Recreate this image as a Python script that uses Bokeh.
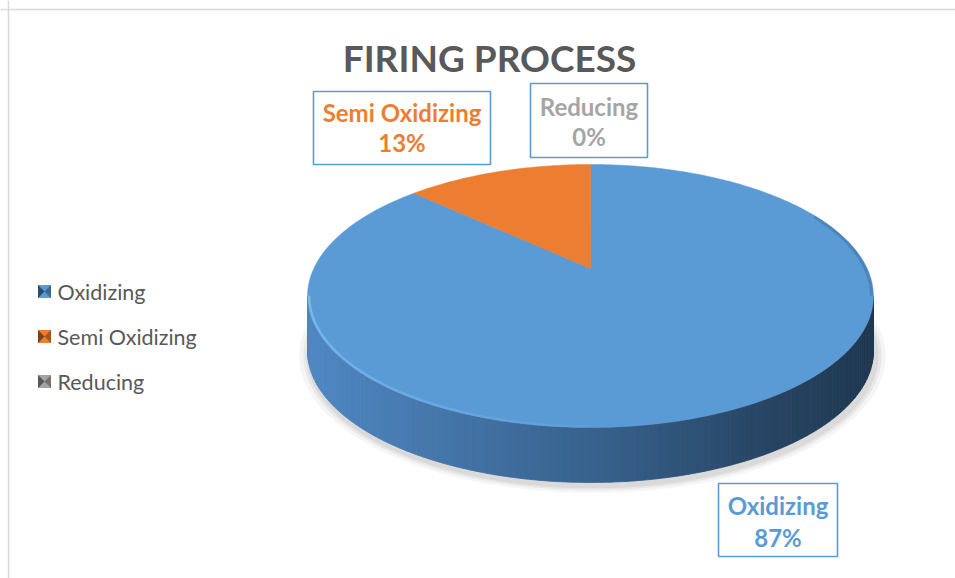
import numpy as np
from bokeh.plotting import figure
from bokeh.models import Range1d, Span
from bokeh.core.properties import value
from bokeh.embed import file_html
from bokeh.resources import INLINE

# ---------------- data ----------------
categories = ["Oxidizing", "Semi Oxidizing", "Reducing"]
values = [87, 13, 0]
colors = ["#5B9BD5", "#ED7D31", "#A5A5A5"]
title_text = "FIRING PROCESS"

# ---------------- layout (image pixel coordinates) ----------------
W, H = 955, 578
CX, CY = 590.0, 296.0          # centre of top ellipse
A, B, C, K = 276.7, 131.6, -28.0, -0.209   # perspective disc projection
DEPTH = 55.0

def proj(t, dy=0.0, grow=0.0):
    u = np.sin(t)
    v = -np.cos(t)
    w = 1.0 + K * v
    x = CX + (A + grow) * u / w
    y = CY + ((B + grow * 0.5) * v + C) / w + dy
    return x, y

p = figure(width=W, height=H, output_backend="svg", toolbar_location=None,
           x_range=Range1d(0, W), y_range=Range1d(H, 0),
           min_border=0, outline_line_color=None)
p.axis.visible = False
p.grid.visible = False
p.background_fill_color = "white"
p.border_fill_color = "white"

# chart border (top & left visible in reference)
p.add_layout(Span(location=9, dimension="width", line_color="#D9D9D9", line_width=1.5))
p.add_layout(Span(location=8, dimension="height", line_color="#D9D9D9", line_width=1.5))

# ---------------- shadow ----------------
tt = np.linspace(0, 2 * np.pi, 240)
for g, a in [(10, 0.10), (6, 0.14), (3, 0.18)]:
    sx, sy = proj(tt, dy=DEPTH + 4, grow=g)
    p.patch(sx + 2, sy, fill_color="#9a9a9a", fill_alpha=a, line_color=None)

# ---------------- side of the disc (front arc, gradient) ----------------
t_right = np.arccos(K)            # silhouette points
t_left = 2 * np.pi - t_right
ts = np.linspace(t_right, t_left, 120)

def side_color(x):
    stops_x = [307, 450, 600, 750, 873]
    stops_c = [(0x4F, 0x88, 0xC4), (0x44, 0x75, 0xA8), (0x37, 0x61, 0x8C),
               (0x29, 0x48, 0x68), (0x20, 0x38, 0x50)]
    r = np.interp(x, stops_x, [c[0] for c in stops_c])
    g = np.interp(x, stops_x, [c[1] for c in stops_c])
    b = np.interp(x, stops_x, [c[2] for c in stops_c])
    return "#%02x%02x%02x" % (int(r), int(g), int(b))

xs_list, ys_list, cols = [], [], []
for i in range(len(ts) - 1):
    x0, y0 = proj(ts[i])
    x1, y1 = proj(ts[i + 1])
    xs_list.append([x0, x1, x1, x0])
    ys_list.append([y0, y1, y1 + DEPTH, y0 + DEPTH])
    cols.append(side_color((x0 + x1) / 2))
p.patches(xs_list, ys_list, fill_color=cols, line_color=cols, line_width=0.8)

# ---------------- top faces of slices ----------------
total = float(sum(values))
fracs = [v / total for v in values]
starts = np.concatenate([[0.0], np.cumsum(fracs)[:-1]]) * 2 * np.pi
ends = np.cumsum(fracs) * 2 * np.pi
cx0, cy0 = CX, CY + C   # projected centre of disc
for s, e, col, f in zip(starts, ends, colors, fracs):
    if f <= 0:
        continue
    n = max(int(f * 360), 4)
    t = np.linspace(s, e, n)
    x, y = proj(t)
    xs = np.concatenate([[cx0], x])
    ys = np.concatenate([[cy0], y])
    p.patch(xs, ys, fill_color=col, line_color=col, line_width=0.5)

# subtle dark rim on right part of the top face
tr = np.linspace(0.35 * np.pi, t_right, 60)
xr, yr = proj(tr, grow=-2)
p.line(xr, yr, line_color="#3d6f9f", line_width=3, line_alpha=0.5)

# highlight rim along front-left edge
tl = np.linspace(t_left, np.pi, 80)
segx, segy, alph = [], [], []
for i in range(len(tl) - 1):
    x0, y0 = proj(tl[i], grow=-1.5)
    x1, y1 = proj(tl[i + 1], grow=-1.5)
    segx.append([x0, x1])
    segy.append([y0, y1])
    alph.append(0.9 * (1 - i / len(tl)) + 0.1)
p.multi_line(segx, segy, line_color="#7DBBF2", line_width=2.5, line_alpha=alph)

# ---------------- title ----------------
p.text(x=[489], y=[57], text=[title_text], text_font=value("Lato"),
       text_font_style="bold", text_font_size="37px", text_color="#595959",
       text_align="center", text_baseline="middle")

# ---------------- data labels ----------------
label_boxes = {  # left, right, top, bottom, line1 y, line2 y
    "Semi Oxidizing": (313, 490, 91, 164, 112, 142),
    "Reducing": (530, 647, 83, 157, 106, 136),
    "Oxidizing": (718, 837, 483, 556, 505, 537),
}
for cat, v, col in zip(categories, values, colors):
    l, r, t_, b_, y1, y2 = label_boxes[cat]
    p.quad(left=[l], right=[r], top=[t_], bottom=[b_], fill_color="white",
           line_color="#5B9BD5", line_width=1.6)
    pct = "%d%%" % round(v / total * 100)
    p.text(x=[(l + r) / 2] * 2, y=[y1, y2], text=[cat, pct],
           text_font=value("Lato"), text_font_style="bold",
           text_font_size="24px", text_color=col,
           text_align="center", text_baseline="middle")

# ---------------- legend ----------------
leg_x, leg_y0, leg_dy, sz = 44, 291, 45, 13
dark = ["#1f3f60", "#6b3510", "#4a4a4a"]
for i, (cat, col) in enumerate(zip(categories, colors)):
    y = leg_y0 + i * leg_dy
    h = sz / 2
    p.quad(left=[leg_x - h], right=[leg_x + h], top=[y - h], bottom=[y + h],
           fill_color=col, line_color=None)
    p.patches([[leg_x - h, leg_x - h, leg_x], [leg_x + h, leg_x + h, leg_x]],
              [[y - h, y + h, y], [y - h, y + h, y]],
              fill_color=[dark[i], dark[i]], fill_alpha=[0.85, 0.55], line_color=None)
    p.text(x=[leg_x + 13], y=[y], text=[cat], text_font=value("Lato"),
           text_font_size="21.5px", text_color="#595959",
           text_align="left", text_baseline="middle")

open("out.html", "w").write(file_html(p, INLINE))
